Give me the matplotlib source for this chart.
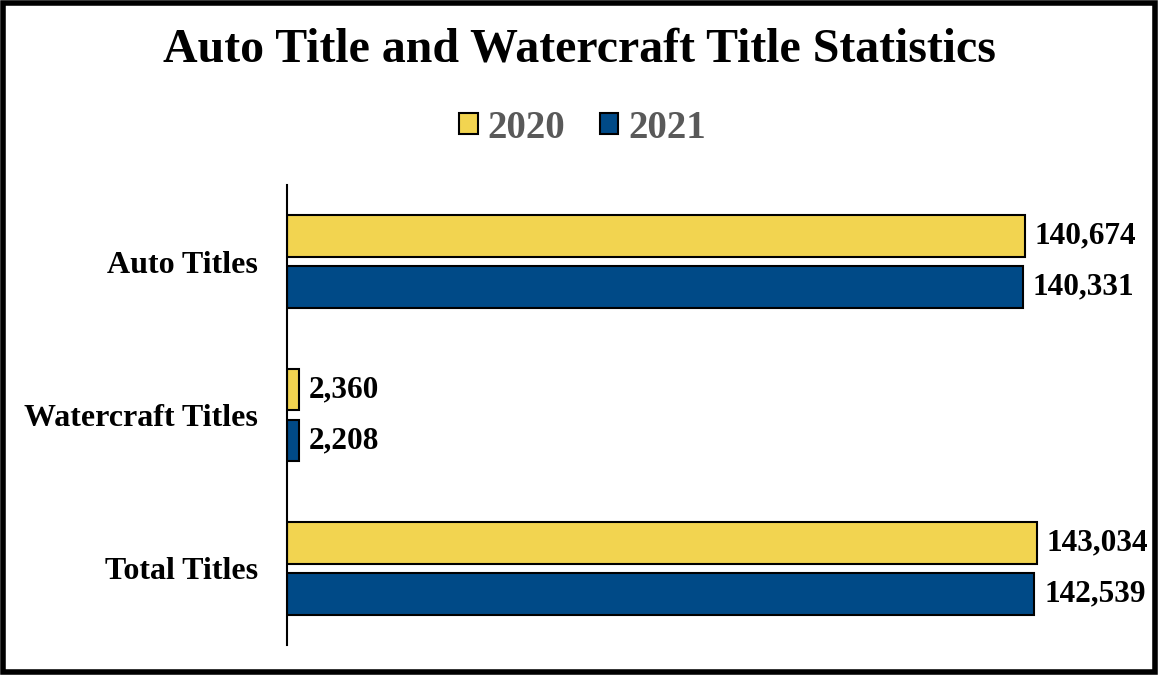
import matplotlib.pyplot as plt
import numpy as np
from matplotlib.patches import Rectangle

# data
categories = ['Auto Titles', 'Watercraft Titles', 'Total Titles']
years = ['2020', '2021']
values_2020 = [140674, 2360, 143034]
values_2021 = [140331, 2208, 142539]
colors = ['#F2D450', '#004A87']

plt.rcParams['font.family'] = ['Liberation Serif', 'DejaVu Serif']

fig = plt.figure(figsize=(11.58, 6.75), dpi=100)
ax = fig.add_axes([287 / 1158, 1 - 645 / 675, (1126 - 287) / 1158, (645 - 185) / 675])

y = np.arange(len(categories))
h = 0.272
off = 0.166
bars1 = ax.barh(y - off, values_2020, height=h, color=colors[0], edgecolor='black',
                linewidth=1.5, label=years[0])
bars2 = ax.barh(y + off, values_2021, height=h, color=colors[1], edgecolor='black',
                linewidth=1.5, label=years[1])

# data labels
for bars in (bars1, bars2):
    for b in bars:
        w = b.get_width()
        ax.annotate(f'{w:,.0f}', (w, b.get_y() + b.get_height() / 2),
                    xytext=(7, 0), textcoords='offset points',
                    ha='left', va='center', fontsize=22.5, fontweight='bold')

ax.set_xlim(0, 160000)
ax.set_ylim(2.5, -0.5)
ax.set_yticks(y)
ax.set_yticklabels(categories, fontsize=23, fontweight='bold')
ax.tick_params(axis='y', length=0, pad=21)
ax.set_xticks([])
for s in ['top', 'right', 'bottom']:
    ax.spines[s].set_visible(False)
ax.spines['left'].set_linewidth(1.5)

fig.text(0.5, 1 - 50 / 675, 'Auto Title and Watercraft Title Statistics',
         ha='center', va='center', fontsize=34.5, fontweight='bold')

leg = fig.legend(loc='center', bbox_to_anchor=(0.503, 1 - 128 / 675), ncol=2,
                 frameon=False, prop={'size': 28, 'weight': 'bold'},
                 handlelength=0.47, handleheight=0.47, handletextpad=0.25,
                 columnspacing=0.9)
for t in leg.get_texts():
    t.set_color('#595959')

# outer frame
fig.patches.append(Rectangle((0.003, 0.004), 0.994, 0.992, transform=fig.transFigure,
                             fill=False, edgecolor='black', linewidth=4))

plt.savefig('out.png', dpi=100)
